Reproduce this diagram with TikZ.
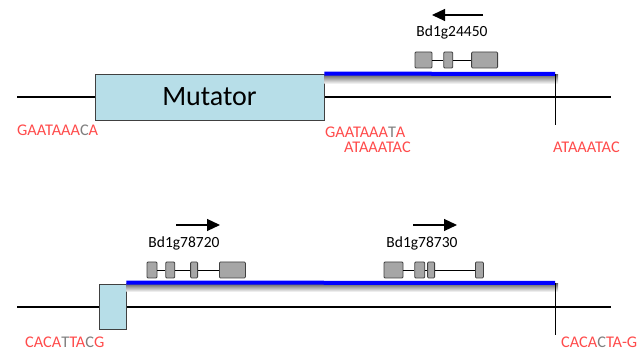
\documentclass[tikz,border=0pt]{standalone}
\usepackage{fontspec}
\setmainfont{Carlito}
\usepackage{xcolor}
\usetikzlibrary{arrows.meta,positioning,calc}
\definecolor{tirblue}{HTML}{B7DEE8}
\definecolor{exongray}{HTML}{A6A6A6}
\definecolor{seqred}{HTML}{FF4B4B}
\definecolor{seqgray}{HTML}{7F7F7F}
\newcommand{\gr}[1]{\textcolor{seqgray}{#1}}

\begin{document}
\begin{tikzpicture}[x=1pt,y=1pt,
  font=\fontsize{15.5}{17}\selectfont,
  ex/.style={draw=black!75,fill=exongray,rounded corners=1pt,inner sep=0pt,minimum height=16pt,line width=0.8pt},
  tir/.style={draw=black!75,fill=tirblue,inner sep=0pt,line width=0.9pt},
  seq/.style={anchor=west,inner sep=0pt,text=seqred,font=\fontsize{16.3}{18}\selectfont},
  dna/.style={line width=1.1pt},
  ins/.style={line width=4pt,blue},
  sh/.style={top color=black!60,bottom color=white},
  a/.style={-{Triangle[length=13pt,width=12pt]},line width=1.2pt}]
\useasboundingbox (0,0) rectangle (638,352);
% top: Mutator insertion
\coordinate (l1) at (17,255); \coordinate (r1) at (611,255);
\draw[dna](l1)--(r1);
\node[tir,minimum width=229pt,minimum height=46pt,font=\fontsize{28}{30}\selectfont](mut) at (209.5,255){Mutator};
\coordinate (end1) at (555,278); \coordinate (tick1) at (555,227);
\shade[sh] ($(mut.north east)+(0,-1)$) rectangle ($(end1)+(3,-10)$);
\draw[ins](mut.north east)--(end1);
\draw[line width=0.9pt](end1)--(tick1);
\node[ex,minimum width=17pt](e1) at (423.5,292){};
\node[ex,minimum width=9pt,right=11pt of e1](e2){};
\node[ex,minimum width=26pt,right=18pt of e2](e3){};
\draw[line width=0.8pt](e1)--(e2);\draw[line width=0.8pt](e2)--(e3);
\node(g1) at (452,320){Bd1g24450};
\coordinate (a1s) at (483,337); \coordinate (a1e) at (432,337);
\draw[a](a1s)--(a1e);
\node[seq](s1) at (17,222){GAATAAA\gr{C}A};
\node[seq](s2) at (325,220){GAATAAA\gr{T}A};
\node[seq](s3) at (344,205){ATAAATAC};
\node[seq](s4) at (553,205){ATAAATAC};
% bottom: small insertion
\coordinate (l2) at (17,45); \coordinate (r2) at (611,45);
\draw[dna](l2)--(r2);
\node[tir,minimum width=27pt,minimum height=45pt](tsd) at (112.5,45.5){};
\coordinate (end2) at (555,69); \coordinate (tick2) at (555,17);
\shade[sh] ($(tsd.north east)+(0,0)$) rectangle ($(end2)+(3,-9)$);
\draw[ins]($(tsd.north east)+(0,1)$)--(end2);
\draw[line width=0.9pt](end2)--(tick2);
\node[ex,minimum width=10pt](f1) at (152,82){};
\node[ex,minimum width=9pt,right=8pt of f1](f2){};
\node[ex,minimum width=7pt,right=15pt of f2](f3){};
\node[ex,minimum width=26pt,right=21pt of f3](f4){};
\draw[line width=0.8pt](f1)--(f2);\draw[line width=0.8pt](f2)--(f3);\draw[line width=0.8pt](f3)--(f4);
\node[ex,minimum width=19pt](h1) at (393.5,82){};
\node[ex,minimum width=10pt,right=11pt of h1](h2){};
\node[ex,minimum width=7pt,right=2pt of h2](h3){};
\node[ex,minimum width=8pt,right=40pt of h3](h4){};
\draw[line width=0.8pt](h1)--(h2);\draw[line width=0.8pt](h2)--(h3);\draw[line width=0.8pt](h3)--(h4);
\node(g2) at (184,109){Bd1g78720};
\node(g3) at (422,109){Bd1g78730};
\coordinate (a2s) at (176,127); \coordinate (a2e) at (220,127);
\coordinate (a3s) at (413,127); \coordinate (a3e) at (457,127);
\draw[a](a2s)--(a2e);\draw[a](a3s)--(a3e);
\node[seq](s5) at (25,10){CACA\gr{T}TA\gr{C}G};
\node[seq](s6) at (561,10){CACA\gr{C}TA-G};
\end{tikzpicture}
\end{document}
